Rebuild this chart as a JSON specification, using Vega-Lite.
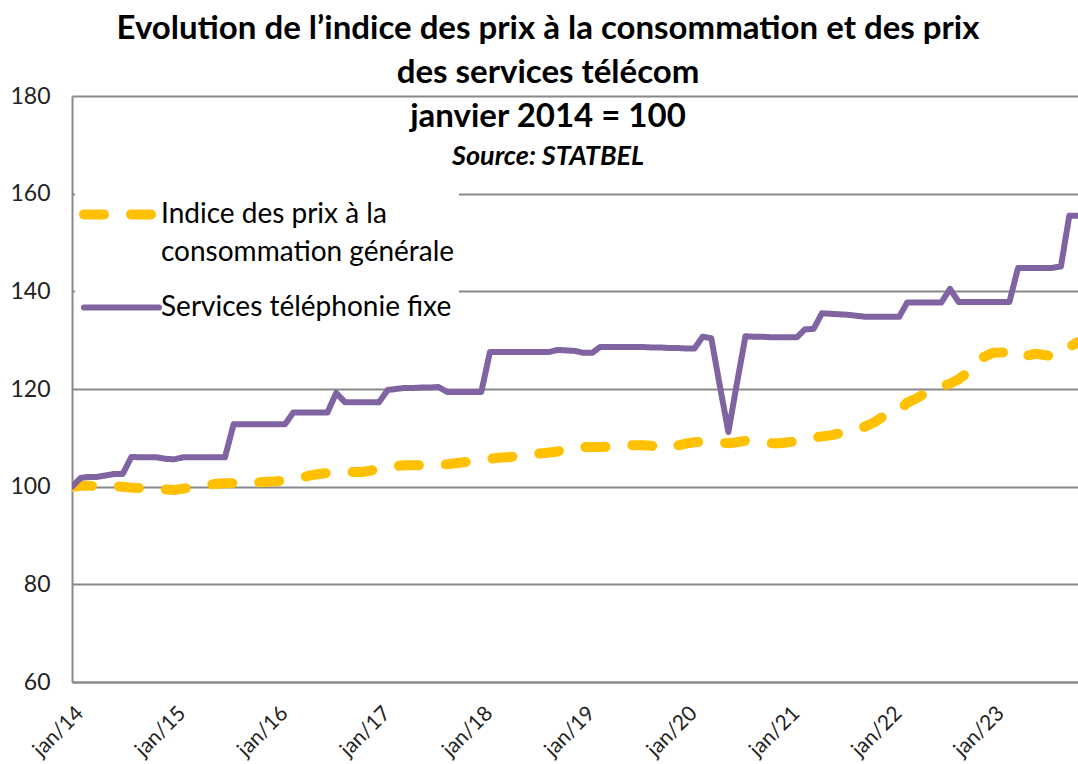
{
  "$schema": "https://vega.github.io/schema/vega-lite/v6.json",
  "width": 1006,
  "height": 586,
  "autosize": {"type": "none"},
  "padding": {"left": 72, "top": 96, "right": 0, "bottom": 82},
  "background": "white",
  "title": {
    "text": ["Evolution de l’indice des prix à la consommation et des prix", "des services télécom", "janvier 2014 = 100"],
    "subtitle": "Source: STATBEL",
    "font": "Lato",
    "fontSize": 33,
    "fontWeight": "bold",
    "lineHeight": 44,
    "color": "black",
    "subtitleFont": "Lato",
    "subtitleFontSize": 27,
    "subtitleFontStyle": "italic",
    "subtitleFontWeight": "bold",
    "subtitleColor": "black",
    "subtitlePadding": 10,
    "anchor": "middle",
    "offset": -85,
    "dx": -27
  },
  "data": {
    "values": [
      {"d": "2014-01-01", "cpi": 100.0, "tel": 100.0},
      {"d": "2014-02-01", "cpi": 100.2, "tel": 101.8},
      {"d": "2014-03-01", "cpi": 100.2, "tel": 102.0},
      {"d": "2014-04-01", "cpi": 100.1, "tel": 102.0},
      {"d": "2014-05-01", "cpi": 100.1, "tel": 102.3},
      {"d": "2014-06-01", "cpi": 100.1, "tel": 102.6},
      {"d": "2014-07-01", "cpi": 100.0, "tel": 102.6},
      {"d": "2014-08-01", "cpi": 99.8, "tel": 106.1},
      {"d": "2014-09-01", "cpi": 99.7, "tel": 106.0},
      {"d": "2014-10-01", "cpi": 99.6, "tel": 106.0},
      {"d": "2014-11-01", "cpi": 99.5, "tel": 106.0},
      {"d": "2014-12-01", "cpi": 99.4, "tel": 105.7},
      {"d": "2015-01-01", "cpi": 99.3, "tel": 105.6},
      {"d": "2015-02-01", "cpi": 99.6, "tel": 106.0},
      {"d": "2015-03-01", "cpi": 99.8, "tel": 106.0},
      {"d": "2015-04-01", "cpi": 100.0, "tel": 106.0},
      {"d": "2015-05-01", "cpi": 100.3, "tel": 106.0},
      {"d": "2015-06-01", "cpi": 100.6, "tel": 106.0},
      {"d": "2015-07-01", "cpi": 100.7, "tel": 106.0},
      {"d": "2015-08-01", "cpi": 100.7, "tel": 112.8},
      {"d": "2015-09-01", "cpi": 100.7, "tel": 112.8},
      {"d": "2015-10-01", "cpi": 100.8, "tel": 112.8},
      {"d": "2015-11-01", "cpi": 100.9, "tel": 112.8},
      {"d": "2015-12-01", "cpi": 101.0, "tel": 112.8},
      {"d": "2016-01-01", "cpi": 101.1, "tel": 112.8},
      {"d": "2016-02-01", "cpi": 101.3, "tel": 112.8},
      {"d": "2016-03-01", "cpi": 101.6, "tel": 115.2},
      {"d": "2016-04-01", "cpi": 101.9, "tel": 115.2},
      {"d": "2016-05-01", "cpi": 102.3, "tel": 115.2},
      {"d": "2016-06-01", "cpi": 102.6, "tel": 115.2},
      {"d": "2016-07-01", "cpi": 102.8, "tel": 115.2},
      {"d": "2016-08-01", "cpi": 103.0, "tel": 119.2},
      {"d": "2016-09-01", "cpi": 103.0, "tel": 117.3},
      {"d": "2016-10-01", "cpi": 103.0, "tel": 117.3},
      {"d": "2016-11-01", "cpi": 103.0, "tel": 117.3},
      {"d": "2016-12-01", "cpi": 103.3, "tel": 117.3},
      {"d": "2017-01-01", "cpi": 103.6, "tel": 117.3},
      {"d": "2017-02-01", "cpi": 104.0, "tel": 119.8},
      {"d": "2017-03-01", "cpi": 104.2, "tel": 120.0},
      {"d": "2017-04-01", "cpi": 104.4, "tel": 120.2},
      {"d": "2017-05-01", "cpi": 104.4, "tel": 120.2},
      {"d": "2017-06-01", "cpi": 104.4, "tel": 120.3},
      {"d": "2017-07-01", "cpi": 104.4, "tel": 120.3},
      {"d": "2017-08-01", "cpi": 104.4, "tel": 120.4},
      {"d": "2017-09-01", "cpi": 104.6, "tel": 119.4},
      {"d": "2017-10-01", "cpi": 104.8, "tel": 119.4},
      {"d": "2017-11-01", "cpi": 105.0, "tel": 119.4},
      {"d": "2017-12-01", "cpi": 105.3, "tel": 119.4},
      {"d": "2018-01-01", "cpi": 105.5, "tel": 119.4},
      {"d": "2018-02-01", "cpi": 105.7, "tel": 127.6},
      {"d": "2018-03-01", "cpi": 105.9, "tel": 127.6},
      {"d": "2018-04-01", "cpi": 106.0, "tel": 127.6},
      {"d": "2018-05-01", "cpi": 106.2, "tel": 127.6},
      {"d": "2018-06-01", "cpi": 106.5, "tel": 127.6},
      {"d": "2018-07-01", "cpi": 106.7, "tel": 127.6},
      {"d": "2018-08-01", "cpi": 106.8, "tel": 127.6},
      {"d": "2018-09-01", "cpi": 107.0, "tel": 127.6},
      {"d": "2018-10-01", "cpi": 107.2, "tel": 128.0},
      {"d": "2018-11-01", "cpi": 107.8, "tel": 127.9},
      {"d": "2018-12-01", "cpi": 108.1, "tel": 127.8},
      {"d": "2019-01-01", "cpi": 108.1, "tel": 127.4},
      {"d": "2019-02-01", "cpi": 108.1, "tel": 127.4},
      {"d": "2019-03-01", "cpi": 108.1, "tel": 128.6},
      {"d": "2019-04-01", "cpi": 108.2, "tel": 128.6},
      {"d": "2019-05-01", "cpi": 108.4, "tel": 128.6},
      {"d": "2019-06-01", "cpi": 108.5, "tel": 128.6},
      {"d": "2019-07-01", "cpi": 108.5, "tel": 128.6},
      {"d": "2019-08-01", "cpi": 108.5, "tel": 128.6},
      {"d": "2019-09-01", "cpi": 108.4, "tel": 128.5},
      {"d": "2019-10-01", "cpi": 107.8, "tel": 128.5},
      {"d": "2019-11-01", "cpi": 107.9, "tel": 128.4},
      {"d": "2019-12-01", "cpi": 108.4, "tel": 128.4},
      {"d": "2020-01-01", "cpi": 108.8, "tel": 128.3},
      {"d": "2020-02-01", "cpi": 109.1, "tel": 128.3},
      {"d": "2020-03-01", "cpi": 109.2, "tel": 130.7},
      {"d": "2020-04-01", "cpi": 109.2, "tel": 130.4},
      {"d": "2020-05-01", "cpi": 109.0, "tel": 120.8},
      {"d": "2020-06-01", "cpi": 108.9, "tel": 111.2},
      {"d": "2020-07-01", "cpi": 109.1, "tel": 121.0},
      {"d": "2020-08-01", "cpi": 109.4, "tel": 130.8},
      {"d": "2020-09-01", "cpi": 109.2, "tel": 130.7},
      {"d": "2020-10-01", "cpi": 109.0, "tel": 130.7},
      {"d": "2020-11-01", "cpi": 108.9, "tel": 130.6},
      {"d": "2020-12-01", "cpi": 108.9, "tel": 130.6},
      {"d": "2021-01-01", "cpi": 109.1, "tel": 130.6},
      {"d": "2021-02-01", "cpi": 109.3, "tel": 130.6},
      {"d": "2021-03-01", "cpi": 109.6, "tel": 132.2},
      {"d": "2021-04-01", "cpi": 110.0, "tel": 132.3},
      {"d": "2021-05-01", "cpi": 110.3, "tel": 135.5},
      {"d": "2021-06-01", "cpi": 110.5, "tel": 135.4},
      {"d": "2021-07-01", "cpi": 110.9, "tel": 135.3},
      {"d": "2021-08-01", "cpi": 111.3, "tel": 135.2},
      {"d": "2021-09-01", "cpi": 111.8, "tel": 135.0},
      {"d": "2021-10-01", "cpi": 112.3, "tel": 134.8},
      {"d": "2021-11-01", "cpi": 113.1, "tel": 134.8},
      {"d": "2021-12-01", "cpi": 114.2, "tel": 134.8},
      {"d": "2022-01-01", "cpi": 115.2, "tel": 134.8},
      {"d": "2022-02-01", "cpi": 115.5, "tel": 134.8},
      {"d": "2022-03-01", "cpi": 117.2, "tel": 137.7},
      {"d": "2022-04-01", "cpi": 118.0, "tel": 137.7},
      {"d": "2022-05-01", "cpi": 119.0, "tel": 137.7},
      {"d": "2022-06-01", "cpi": 119.8, "tel": 137.7},
      {"d": "2022-07-01", "cpi": 120.5, "tel": 137.7},
      {"d": "2022-08-01", "cpi": 121.1, "tel": 140.5},
      {"d": "2022-09-01", "cpi": 122.0, "tel": 137.8},
      {"d": "2022-10-01", "cpi": 123.3, "tel": 137.8},
      {"d": "2022-11-01", "cpi": 124.7, "tel": 137.8},
      {"d": "2022-12-01", "cpi": 126.6, "tel": 137.8},
      {"d": "2023-01-01", "cpi": 127.4, "tel": 137.8},
      {"d": "2023-02-01", "cpi": 127.5, "tel": 137.8},
      {"d": "2023-03-01", "cpi": 127.4, "tel": 137.8},
      {"d": "2023-04-01", "cpi": 126.4, "tel": 144.8},
      {"d": "2023-05-01", "cpi": 126.8, "tel": 144.8},
      {"d": "2023-06-01", "cpi": 127.2, "tel": 144.8},
      {"d": "2023-07-01", "cpi": 127.0, "tel": 144.8},
      {"d": "2023-08-01", "cpi": 126.7, "tel": 144.8},
      {"d": "2023-09-01", "cpi": 127.6, "tel": 145.1},
      {"d": "2023-10-01", "cpi": 128.6, "tel": 155.5},
      {"d": "2023-11-01", "cpi": 129.6, "tel": 155.5}
    ]
  },
  "transform": [{"fold": ["cpi", "tel"], "as": ["series", "value"]}],
  "mark": {"type": "line", "strokeCap": "round", "strokeJoin": "round", "clip": true},
  "encoding": {
    "x": {
      "field": "d",
      "type": "temporal",
      "scale": {"type": "utc", "domain": [{"year": 2014, "month": 1, "date": 1, "utc": true}, {"year": 2023, "month": 11, "date": 1, "utc": true}]},
      "axis": {
        "title": null,
        "grid": false,
        "ticks": false,
        "domain": true,
        "domainColor": "#898989",
        "domainWidth": 2,
        "tickCount": {"interval": "year", "step": 1},
        "labelExpr": "'jan/' + utcFormat(datum.value, '%y')",
        "labelAngle": -45,
        "labelFont": "Lato",
        "labelFontSize": 21,
        "labelColor": "#222222",
        "labelPadding": 20,
        "labelFlush": false,
        "labelOverlap": false
      }
    },
    "y": {
      "field": "value",
      "type": "quantitative",
      "scale": {"domain": [60, 180], "nice": false, "zero": false},
      "axis": {
        "title": null,
        "values": [60, 80, 100, 120, 140, 160, 180],
        "grid": true,
        "gridColor": "#898989",
        "gridWidth": 2,
        "ticks": false,
        "domain": true,
        "domainColor": "#898989",
        "domainWidth": 2,
        "labelFont": "Lato",
        "labelFontSize": 23,
        "labelColor": "#222222",
        "labelPadding": 22
      }
    },
    "color": {
      "field": "series",
      "type": "nominal",
      "scale": {"domain": ["cpi", "tel"], "range": ["#FFC000", "#8064A2"]},
      "legend": {
        "title": null,
        "orient": "none",
        "legendX": 3,
        "legendY": 72,
        "fillColor": "white",
        "padding": 4,
        "symbolType": "stroke",
        "symbolSize": 5625,
        "labelFont": "Lato",
        "labelFontSize": 28,
        "labelColor": "black",
        "labelOffset": -3,
        "labelLimit": 600,
        "rowPadding": 0,
        "labelExpr": "datum.value == 'cpi' ? ['Indice des prix à la', 'consommation générale'] : 'Services téléphonie fixe'",
        "encode": {
          "symbols": {"update": {"strokeCap": {"value": "round"}}},
          "labels": {"update": {"lineHeight": {"value": 38}}}
        }
      }
    },
    "strokeDash": {
      "field": "series",
      "type": "nominal",
      "scale": {"domain": ["cpi", "tel"], "range": [[20, 27], [1, 0]]}
    },
    "strokeWidth": {
      "field": "series",
      "type": "nominal",
      "scale": {"domain": ["cpi", "tel"], "range": [10, 6]}
    }
  },
  "config": {
    "view": {"stroke": null},
    "font": "Lato"
  }
}
